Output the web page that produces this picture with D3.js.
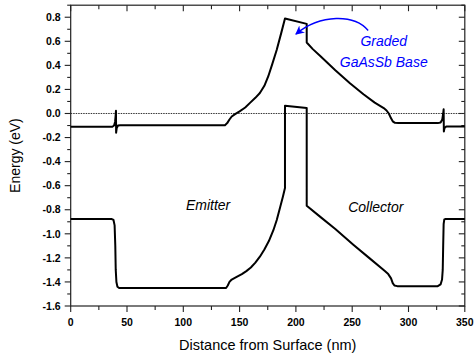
<!DOCTYPE html>
<html><head><meta charset="utf-8">
<script src="https://cdn.jsdelivr.net/npm/d3@7"></script>
<style>body{margin:0;background:#fff}svg{display:block}</style>
</head><body>
<svg id="c" width="475" height="360"></svg>
<script>
// ---- data ----
const xTicks = [0, 50, 100, 150, 200, 250, 300, 350];
const yTicks = [0.8, 0.6, 0.4, 0.2, 0.0, -0.2, -0.4, -0.6, -0.8, -1.0, -1.2, -1.4, -1.6];
const cbX = [0, 37, 38.5, 39.4, 39.9, 40.2, 40.35, 40.9, 42, 44, 137, 139, 141, 143, 146, 150, 155, 159, 164, 168, 172, 175.5, 179, 183, 187, 190.3, 209.6, 209.6, 215, 221.4, 235, 248, 260, 270, 278, 280.5, 282.5, 284.5, 286, 288, 291, 326, 328.5, 330, 330.8, 331.2, 331.4, 332, 333.5, 350];
const cbY = [-0.11, -0.11, -0.10, -0.07, -0.02, 0.022, -0.16, -0.12, -0.10, -0.097, -0.097, -0.08, -0.05, -0.025, -0.005, 0.018, 0.05, 0.086, 0.13, 0.17, 0.23, 0.31, 0.41, 0.53, 0.67, 0.79, 0.745, 0.59, 0.535, 0.48, 0.36, 0.252, 0.16, 0.09, 0.045, 0.025, 0.0, -0.04, -0.065, -0.078, -0.08, -0.08, -0.075, -0.05, 0.0, 0.035, -0.15, -0.12, -0.108, -0.108];
const vbX = [0, 36.5, 38, 39, 39.6, 40, 40.6, 41.5, 43, 138, 139.5, 141, 143, 147, 152, 156, 160, 164, 168, 172, 176, 180, 183, 186, 188.5, 190.3, 190.3, 209.6, 209.6, 221.4, 235, 251, 265, 279, 282, 284.5, 286, 287.5, 290, 326, 328.5, 329.8, 330.4, 330.8, 331.2, 331.8, 333, 350];
const vbY = [-0.877, -0.877, -0.885, -0.93, -1.1, -1.3, -1.4, -1.44, -1.45, -1.45, -1.43, -1.40, -1.38, -1.36, -1.335, -1.31, -1.28, -1.24, -1.19, -1.13, -1.06, -0.97, -0.885, -0.78, -0.69, -0.62, 0.064, 0.045, -0.767, -0.857, -0.96, -1.09, -1.2, -1.31, -1.335, -1.37, -1.41, -1.43, -1.435, -1.435, -1.42, -1.38, -1.30, -1.1, -0.92, -0.88, -0.877, -0.877];
const fermiX = [0, 350];
const fermiY = [0, 0];
const labels = [
  {text: "Emitter", x: 122, y: -0.80},
  {text: "Collector", x: 271, y: -0.82}
];
const noteLines = ["Graded", "GaAsSb Base"];
const noteX = 278, noteY = [0.562, 0.39];
const arrowPts = [[264.2, 0.69], [252, 0.825], [222, 0.83], [200, 0.66]];

// ---- layout ----
const W = 475, H = 360;
const m = {l: 70.7, r: 10.2, t: 5.2, b: 54};
const svg = d3.select("#c");
const x = d3.scaleLinear().domain([0, 350]).range([m.l, W - m.r]);
const y = d3.scaleLinear().domain([-1.6, 0.9]).range([H - m.b, m.t]);
const font = "Arial, 'Liberation Sans', sans-serif";

const xMinor = d3.range(0, 351, 25);
const yMinor = d3.range(-16, 10, 1).map(d => d / 10);

// frame
svg.append("rect").attr("x", x(0)).attr("y", y(0.9)).attr("width", x(350) - x(0)).attr("height", y(-1.6) - y(0.9))
  .attr("fill", "none").attr("stroke", "#222").attr("stroke-width", 1.2);

const tickG = svg.append("g").attr("stroke", "#222").attr("stroke-width", 1.1);
// bottom (outward) and top (inward)
xMinor.forEach(v => {
  const major = v % 50 === 0;
  const len = major ? 6 : 4;
  tickG.append("line").attr("x1", x(v)).attr("x2", x(v)).attr("y1", y(-1.6)).attr("y2", y(-1.6) + len);
  tickG.append("line").attr("x1", x(v)).attr("x2", x(v)).attr("y1", y(0.9)).attr("y2", y(0.9) + len);
});
yMinor.forEach(v => {
  const major = Math.round(v * 10) % 2 === 0;
  const len = major ? 6 : 3.5;
  tickG.append("line").attr("x1", x(0)).attr("x2", x(0) - len).attr("y1", y(v)).attr("y2", y(v));
  tickG.append("line").attr("x1", x(350)).attr("x2", x(350) - len).attr("y1", y(v)).attr("y2", y(v));
});

// tick labels
svg.append("g").selectAll("text").data(xTicks).join("text")
  .attr("x", d => x(d)).attr("y", y(-1.6) + 20).attr("text-anchor", "middle")
  .attr("font-family", font).attr("font-weight", "bold").attr("font-size", 10.5).text(d => d);
svg.append("g").selectAll("text").data(yTicks).join("text")
  .attr("x", x(0) - 10).attr("y", d => y(d) + 3.7).attr("text-anchor", "end")
  .attr("font-family", font).attr("font-weight", "bold").attr("font-size", 10.5).text(d => d.toFixed(1));

// axis titles
svg.append("text").attr("x", (x(0) + x(350)) / 2).attr("y", 349.5).attr("text-anchor", "middle")
  .attr("font-family", font).attr("font-size", 14.5).text("Distance from Surface (nm)");
svg.append("text").attr("transform", `translate(19.5,${(y(0.9) + y(-1.6)) / 2}) rotate(-90)`).attr("text-anchor", "middle")
  .attr("font-family", font).attr("font-size", 14).text("Energy (eV)");

// Fermi level (dotted)
const line = d3.line().x(d => x(d[0])).y(d => y(d[1]));
svg.append("path").datum(fermiX.map((v, i) => [v, fermiY[i]])).attr("d", line)
  .attr("fill", "none").attr("stroke", "#333").attr("stroke-width", 1).attr("stroke-dasharray", "1.5,1");

// bands
[[cbX, cbY], [vbX, vbY]].forEach(([xs, ys]) => {
  svg.append("path").datum(xs.map((v, i) => [v, ys[i]])).attr("d", line)
    .attr("fill", "none").attr("stroke", "#000").attr("stroke-width", 2).attr("stroke-linejoin", "round");
});

// region labels
svg.append("g").selectAll("text").data(labels).join("text")
  .attr("x", d => x(d.x)).attr("y", d => y(d.y)).attr("text-anchor", "middle")
  .attr("font-family", font).attr("font-style", "italic").attr("font-size", 14).text(d => d.text);

// annotation
svg.append("g").selectAll("text").data(noteLines).join("text")
  .attr("x", x(noteX)).attr("y", (d, i) => y(noteY[i])).attr("text-anchor", "middle")
  .attr("font-family", font).attr("font-style", "italic").attr("font-size", 14).attr("fill", "#0000ff").text(d => d);

const defs = svg.append("defs");
defs.append("marker").attr("id", "ah").attr("viewBox", "0 0 10 10").attr("refX", 9).attr("refY", 5)
  .attr("markerWidth", 9).attr("markerHeight", 9).attr("markerUnits", "userSpaceOnUse").attr("orient", "auto")
  .append("path").attr("d", "M0,0 L10,5 L0,10 L3,5 Z").attr("fill", "#0000ff");
const p = arrowPts.map(d => [x(d[0]), y(d[1])]);
svg.append("path")
  .attr("d", `M${p[0]} C${p[1]} ${p[2]} ${p[3]}`)
  .attr("fill", "none").attr("stroke", "#0000ff").attr("stroke-width", 1.3).attr("marker-end", "url(#ah)");
</script>
</body></html>
